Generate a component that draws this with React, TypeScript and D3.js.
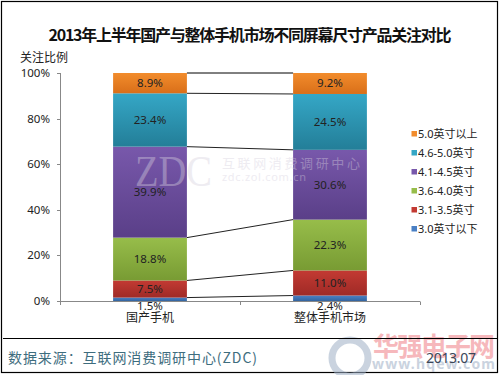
import React from "react";
import * as d3 from "d3";

const title = "2013年上半年国产与整体手机市场不同屏幕尺寸产品关注对比";
const yAxisTitle = "关注比例";
const categories = ["国产手机", "整体手机市场"];
const seriesNames = ["3.0英寸以下", "3.1-3.5英寸", "3.6-4.0英寸", "4.1-4.5英寸", "4.6-5.0英寸", "5.0英寸以上"];
const domesticValues = [1.5, 7.5, 18.8, 39.9, 23.4, 8.9];
const overallValues = [2.4, 11.0, 22.3, 30.6, 24.5, 9.2];
const yTicks = [0, 20, 40, 60, 80, 100];
const source = "数据来源：互联网消费调研中心(ZDC)";
const dateLabel = "2013.07";

const colorsTop = ["#4a80c4", "#c33a33", "#97bd4a", "#7858ab", "#35a7c6", "#f28c2c"];
const colorsBottom = ["#33649f", "#9f2a26", "#789b33", "#5a3f88", "#237e98", "#d96f19"];

export default function App() {
  const W = 500, H = 375;
  const x = d3.scaleBand<string>().domain(categories).range([60, 420]).paddingInner(0.59).paddingOuter(0.295);
  const y = d3.scaleLinear().domain([0, 100]).range([301, 73]);
  const bw = x.bandwidth();
  const data = [domesticValues, overallValues];
  const stacks = data.map((vals) => {
    let c = 0;
    return vals.map((v) => {
      const s = { y0: c, y1: c + v, v };
      c += v;
      return s;
    });
  });
  const font = "'Noto Sans', 'Noto Sans CJK SC', sans-serif";
  const cjk = "'Noto Sans CJK SC', sans-serif";

  return (
    <svg width={W} height={H} style={{ position: "absolute", left: 0, top: 0, background: "#fff" }} fontFamily={font}>
      <defs>
        {seriesNames.map((_, i) => (
          <linearGradient key={i} id={`g${i}`} x1="0" y1="0" x2="0" y2="1">
            <stop offset="0%" stopColor={colorsTop[i]} />
            <stop offset="100%" stopColor={colorsBottom[i]} />
          </linearGradient>
        ))}
      </defs>
      <rect x={1.5} y={1.5} width={496} height={371} fill="#fff" stroke="#000" strokeWidth={1.2} />
      <text x={250} y={41} textAnchor="middle" fontSize={16} fontWeight="bold" fontFamily={cjk} textLength={403} lengthAdjust="spacing" fill="#111">{title}</text>
      <text x={20} y={62} fontSize={12} fontFamily={cjk} fill="#222">{yAxisTitle}</text>

      {/* axes */}
      <line x1={60.5} x2={60.5} y1={73} y2={301} stroke="#888" />
      {yTicks.map((t) => (
        <g key={t}>
          <line x1={57} x2={60.5} y1={Math.round(y(t)) + 0.5} y2={Math.round(y(t)) + 0.5} stroke="#888" />
          <text x={50} y={y(t) + 4} textAnchor="end" fontSize={11.5} fill="#222">{t}%</text>
        </g>
      ))}
      <line x1={60} x2={420} y1={301.5} y2={301.5} stroke="#888" />
      {[60.5, 240.5, 420.5].map((tx) => (
        <line key={tx} x1={tx} x2={tx} y1={301.5} y2={305} stroke="#888" />
      ))}

      {/* connector lines */}
      {stacks[0].map((s, i) => (
        <line key={i} x1={(x(categories[0]) as number) + bw} y1={y(s.y1)} x2={x(categories[1]) as number} y2={y(stacks[1][i].y1)} stroke={i === 5 ? "#000" : "#222"} strokeWidth={1} />
      ))}

      {/* bars */}
      {stacks.map((st, ci) => (
        <g key={ci}>
          {st.map((s, i) => (
            <rect key={i} x={x(categories[ci])} y={y(s.y1)} width={bw} height={y(s.y0) - y(s.y1)} fill={`url(#g${i})`} />
          ))}
        </g>
      ))}

      {/* ZDC watermark */}
      <g opacity={0.4} fill="#d6d0de">
        <text x={135} y={186} fontSize={44} fontFamily="'Liberation Serif', serif" textLength={77} lengthAdjust="spacingAndGlyphs">ZDC</text>
        <text x={222} y={168} fontSize={13} fontFamily={cjk} textLength={138} lengthAdjust="spacing">互联网消费调研中心</text>
        <text x={222} y={181} fontSize={11} textLength={84} lengthAdjust="spacing">zdc.zol.com.cn</text>
      </g>

      {/* value and category labels */}
      {stacks.map((st, ci) => (
        <g key={`l${ci}`}>
          {st.map((s, i) => {
            const cx = (x(categories[ci]) as number) + bw / 2;
            const cy = i === 0 ? 310 : (y(s.y0) + y(s.y1)) / 2 + 4;
            return (
              <text key={`t${i}`} x={cx} y={cy} textAnchor="middle" fontSize={11.5} fill="#222">{s.v.toFixed(1)}%</text>
            );
          })}
          <text x={(x(categories[ci]) as number) + bw / 2} y={322} textAnchor="middle" fontSize={12} fontFamily={cjk} fill="#222">{categories[ci]}</text>
        </g>
      ))}

      {/* legend */}
      {seriesNames.slice().reverse().map((n, k) => {
        const i = seriesNames.length - 1 - k;
        const ly = 134 + k * 19;
        return (
          <g key={n}>
            <rect x={411.5} y={ly - 3} width={5.5} height={5.5} fill={colorsTop[i]} />
            <text x={418} y={ly + 4} fontSize={11} fill="#222">{n}</text>
          </g>
        );
      })}

      {/* footer */}
      <g opacity={0.55}>
        <circle cx={350} cy={358} r={18} fill="none" stroke="#9fb0c6" strokeWidth={7} />
        <text x={373} y={356} fontSize={26} fontWeight="bold" fontFamily={cjk} fill="#f07f86" textLength={122} lengthAdjust="spacing">华强电子网</text>
        <text x={372} y={369} fontSize={14} fontWeight="bold" fill="#9fb0c6" textLength={123} lengthAdjust="spacing">www.hqew.com</text>
      </g>
      <line x1={3} x2={497} y1={338.5} y2={338.5} stroke="#000" />
      <text x={8} y={363} fontSize={14} fontFamily={cjk} fill="#3e6d7e" textLength={249} lengthAdjust="spacing">{source}</text>
      <text x={426} y={363} fontSize={14} fill="#3a4658" textLength={50} lengthAdjust="spacing">{dateLabel}</text>
    </svg>
  );
}
